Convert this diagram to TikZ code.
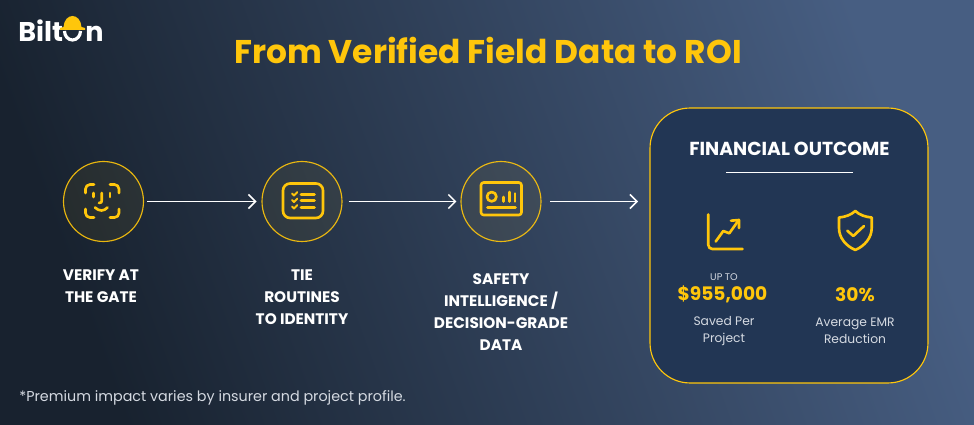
\documentclass[tikz,border=0pt]{standalone}
\usepackage{xcolor}
\usepackage{fontspec}
\setmainfont{Poppins}
\usetikzlibrary{arrows.meta}
\definecolor{goldline}{HTML}{FFC60B}
\definecolor{cardblue}{HTML}{223654}
\definecolor{softtext}{HTML}{D5DAE2}
\definecolor{bgdark}{HTML}{18222F}
\definecolor{bgmid}{HTML}{2E415F}
\definecolor{bglight}{HTML}{475E82}
\tikzset{
  stepcircle/.style={circle,draw=goldline,line width=0.65pt,fill=goldline,fill opacity=0.06,draw opacity=0.9,minimum size=1.6cm,inner sep=0pt},
  flowarrow/.style={draw=white,line width=0.85pt,-{Straight Barb[length=4pt,width=8pt,line width=0.85pt]}},
  icon/.style={draw=goldline,line width=1.5pt,line cap=round,line join=round},
  steplabel/.style={text=white,align=center,font=\fontsize{8.7}{12.5}\selectfont\bfseries},
  smalllabel/.style={text=softtext,align=center,font=\fontsize{7}{9.8}\selectfont},
  bignumber/.style={text=goldline,font=\fontsize{10.6}{12}\selectfont\bfseries}
}
\begin{document}
\begin{tikzpicture}[x=0.02cm,y=-0.02cm]
\useasboundingbox (0,0) rectangle (974,425);
\begin{scope}
  \clip (0,0) rectangle (974,425);
  \shade[left color=bgdark,middle color=bgmid,right color=bglight,shading angle=110] (0,0) rectangle (974,425);
\end{scope}
% logo
\node[anchor=base west,inner sep=0pt,text=white,font=\fontsize{15.4}{15}\selectfont\bfseries] (logoleft) at (18,41.7) {Bilt};
\node[anchor=base west,inner sep=0pt,text=white,font=\fontsize{15.4}{15}\selectfont\bfseries] (logoright) at (85,41.7) {n};
\draw[white,line width=1.8pt] (64.5,31) arc (180:0:8 and 9);
\fill[goldline] (60,30) -- (60,28) -- (63.5,27) .. controls (64,20) and (68,16) .. (72.5,16) .. controls (77,16) and (81,20) .. (81.5,27) -- (85,28) -- (85,30) -- cycle;
% title
\node[text=goldline,font=\fontsize{18.7}{20}\selectfont\bfseries] (title) at (488,50) {From Verified Field Data to ROI};
% steps
\node[stepcircle] (verify) at (103.5,201.5) {};
\node[stepcircle] (tie) at (302,201.5) {};
\node[stepcircle] (safety) at (501,201.5) {};
\node[steplabel] (verifytext) at (101,286.5) {VERIFY AT\\THE GATE};
\node[steplabel] (tietext) at (302,297.5) {TIE\\ROUTINES\\TO IDENTITY};
\node[steplabel] (safetytext) at (501,312) {SAFETY\\INTELLIGENCE /\\DECISION-GRADE\\DATA};
% card
\node[draw=goldline,fill=cardblue,line width=0.65pt,rounded corners=0.8cm,minimum width=5.56cm,minimum height=5.5cm,inner sep=0pt] (card) at (789,245.5) {};
\node[text=white,font=\fontsize{10.7}{12}\selectfont\bfseries] (cardtitle) at (789.5,148.5) {FINANCIAL OUTCOME};
\coordinate (ruleleft) at (726,172.5);
\coordinate (ruleright) at (853,172.5);
\draw[white,line width=0.65pt] (ruleleft) -- (ruleright);
% arrows
\coordinate (cardin) at (638,201.5);
\draw[flowarrow,shorten <=1.7pt,shorten >=2.8pt] (verify) -- (tie);
\draw[flowarrow,shorten <=3.4pt,shorten >=2.3pt] (tie) -- (safety);
\draw[flowarrow,shorten <=5pt] (safety) -- (cardin);
% face
\draw[icon] (85.5,193) -- (85.5,189) arc (180:270:4.5) -- (94,184.5);
\draw[icon] (110,184.5) -- (114.5,184.5) arc (270:360:4.5) -- (119,193);
\draw[icon] (85.5,209) -- (85.5,213) arc (180:90:4.5) -- (94,217.5);
\draw[icon] (110,217.5) -- (114.5,217.5) arc (90:0:4.5) -- (119,209);
\draw[icon] (93.5,193) -- (93.5,197);
\draw[icon] (110,193) -- (110,197);
\draw[icon] (101.7,193) -- (101.7,200.5) .. controls (101.7,202.5) .. (99,203);
\draw[icon] (95,207.5) .. controls (99,211.5) and (104,211.5) .. (107.5,207.5);
% checklist
\draw[icon,rounded corners=4pt] (283,183.5) rectangle (323,218);
\foreach \y in {194.3,200.8,207.3} {
  \draw[icon] (301,\y) -- (314.5,\y);
  \draw[icon,line width=1.1pt] (292,\y-0.8) -- (294,\y+1.2) -- (297.3,\y-2.2);
}
% dashboard
\draw[icon,rounded corners=1.5pt] (481,182.5) rectangle (521.5,215);
\draw[icon] (491.7,196.7) circle (4.7);
\draw[icon] (503.3,197) -- (503.3,201.5);
\draw[icon] (509.3,192) -- (509.3,201.5);
\draw[icon] (515,193.5) -- (515,201.5);
\draw[icon] (487.5,207.7) -- (515.5,207.7);
% chart
\draw[icon] (708.3,214.5) -- (708.3,245) arc (180:90:4) -- (742.5,249);
\draw[icon] (715.7,241.5) -- (723.3,231) -- (729.3,233.3) -- (738.3,220.7);
\draw[icon] (731,220.7) -- (739,220) -- (739,228);
% shield
\draw[icon] (855.3,211) .. controls (851,215) and (845,217) .. (839,217.5) -- (839,228) .. controls (839,238) and (846,246) .. (855.3,250) .. controls (864.5,246) and (871.7,238) .. (871.7,228) -- (871.7,217.5) .. controls (865.5,217) and (859.5,215) .. (855.3,211) -- cycle;
\draw[icon] (847.3,230.7) -- (853.3,236) -- (864,226);
% figures
\node[text=softtext,font=\fontsize{5.5}{7}\selectfont] (upto) at (724,277.5) {UP TO};
\node[bignumber] (amount) at (722.5,294.5) {\$955,000};
\node[bignumber] (percent) at (855,295) {30\%};
\node[smalllabel] (savedtext) at (724,331) {Saved Per\\Project};
\node[smalllabel] (emrtext) at (855,331) {Average EMR\\Reduction};
% footnote
\node[anchor=base west,inner sep=0pt,text=softtext,font=\fontsize{8.15}{10}\selectfont] (footnote) at (19,401.5) {*Premium impact varies by insurer and project profile.};
\end{tikzpicture}
\end{document}
